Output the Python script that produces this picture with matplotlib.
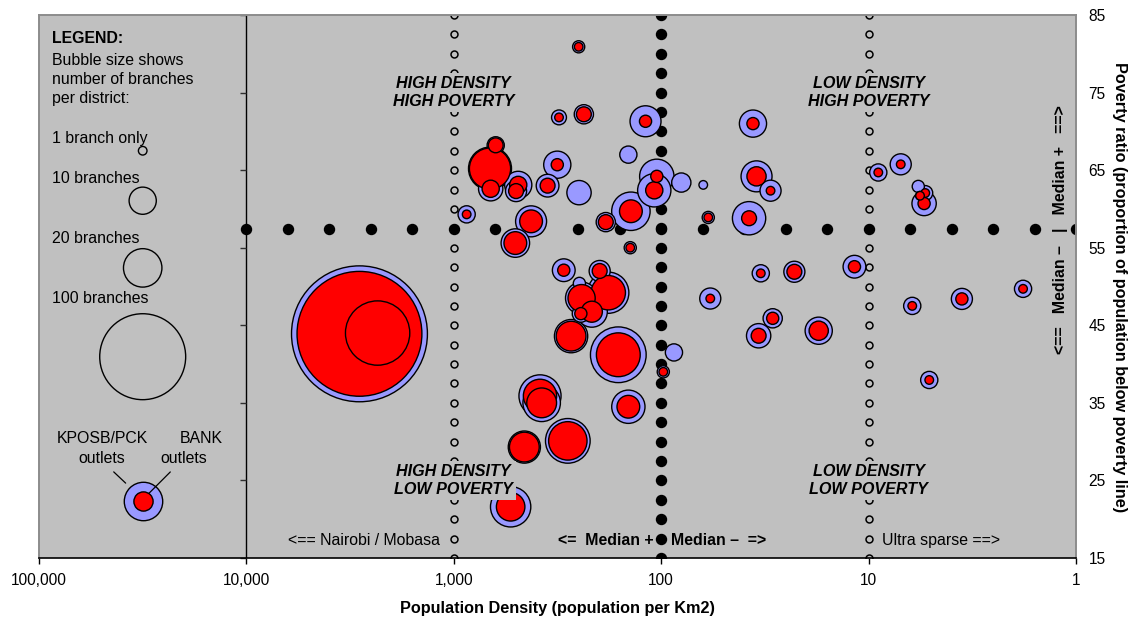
import numpy as np
import matplotlib
matplotlib.use('Agg')
import matplotlib.pyplot as plt
from matplotlib.ticker import FixedLocator, NullLocator, FixedFormatter

plt.rcParams['font.family'] = ['Liberation Sans', 'DejaVu Sans']

# ---------------- data (one entry per district) ----------------
density = [250, 311, 236, 119, 669, 628, 664, 489, 501, 317, 353, 249, 144, 105, 108,
           80, 867, 424, 505, 185, 140, 141, 62.7, 36.1, 34.7, 29.7, 59.3, 37.7, 33.1,
           22.8, 11.7, 58.0, 29.0, 33.9, 17.4, 8.98, 7.0, 5.76, 5.33, 5.65, 5.4, 6.16,
           3.55, 1.80, 5.1, 86.8, 97.7, 295, 198, 180, 242, 248, 216, 244, 272, 161,
           384, 377, 144, 457, 282, 532, 2850, 2330]
poverty = [80.9, 71.8, 72.2, 71.3, 65.2, 68.2, 62.6, 63.1, 62.3, 65.7, 63.0, 62.1, 67.0,
           64.2, 62.4, 63.4, 59.3, 58.4, 55.6, 58.3, 59.7, 55.0, 63.1, 71.0, 64.2, 62.35,
           58.9, 58.8, 51.7, 51.9, 52.55, 48.45, 45.9, 43.65, 44.3, 64.7, 65.75, 62.9,
           62.05, 61.7, 60.7, 47.5, 48.4, 49.7, 37.95, 41.5, 39.0, 52.1, 52.0, 49.2, 48.5,
           50.4, 46.75, 46.5, 43.6, 41.2, 35.9, 35.0, 34.5, 29.3, 30.1, 21.6, 43.9, 44.0]
kposb_outlets = [2, 3, 5, 13, 25, 4, 8, 10, 6, 10, 7, 8, 4, 16, 15,
                 5, 4, 13, 11, 5, 20, 2, 1, 10, 13, 6, 2, 15, 4,
                 6, 7, 6, 5, 8, 10, 4, 6, 2, 3, 1, 8, 4,
                 6, 4, 4, 4, 2, 7, 6, 23, 14, 2, 13, 4, 15, 42,
                 24, 19, 15, 14, 27, 22, 250, 60]
bank_outlets = [1, 1, 3, 2, 23, 3, 4, 4, 3, 2, 3, 0, 0, 2, 4,
                0, 1, 7, 7, 3, 7, 1, 0, 2, 5, 1, 1, 3, 1,
                3, 2, 1, 2, 3, 5, 1, 1, 0, 1, 1, 2, 1,
                2, 1, 1, 0, 1, 2, 3, 16, 10, 0, 6, 2, 12, 26,
                15, 12, 7, 12, 20, 11, 211, 56]

median_density = 100
median_poverty = 57.4
quadrant_lines = [1000, 10]

legend_sizes = [1, 10, 20, 100]
legend_labels = ["1 branch only", "10 branches", "20 branches", "100 branches"]
legend_y = [67.5, 61.06, 52.4, 40.95]
legend_x = 31623
legend_sample = (22.4, 20, 5)   # y, kposb, bank

x_ticks = [100000, 10000, 1000, 100, 10, 1]
x_ticklabels = ["100,000", "10,000", "1,000", "100", "10", "1"]
y_ticks = [15, 25, 35, 45, 55, 65, 75, 85]

# ---------------- styling ----------------
BG = '#C0C0C0'
BLUE = '#9999FF'
RED = '#FF0000'
SCALE = 38.3   # marker area (pt^2) per outlet
FS = 11.4
FSQ = 11.6
FSL = 11.7

fig = plt.figure(figsize=(11.31, 6.18), dpi=100)
ax = fig.add_axes([39 / 1131, 60 / 618, 1037 / 1131, 543 / 618])
ax.set_facecolor(BG)
ax.set_xscale('log')
ax.set_xlim(100000, 1)
ax.set_ylim(15, 85)

for side in ['top', 'left', 'right']:
    ax.spines[side].set_color('#8c8c8c')
    ax.spines[side].set_linewidth(1.4)
ax.spines['bottom'].set_color('black')
ax.spines['bottom'].set_linewidth(1.2)

ax.xaxis.set_major_locator(FixedLocator(x_ticks))
ax.xaxis.set_major_formatter(FixedFormatter(x_ticklabels))
ax.xaxis.set_minor_locator(NullLocator())
ax.tick_params(axis='x', direction='out', length=4, width=1, pad=7, labelsize=11.2)

ax.yaxis.tick_right()
ax.set_yticks(y_ticks)
ax.yaxis.set_minor_locator(NullLocator())
ax.tick_params(axis='y', length=0, pad=9, labelsize=11.2)

# y axis line crossing at 10,000
ax.axvline(10000, color='black', lw=1.0, zorder=2.5)
ax.plot([10000] * len(y_ticks), y_ticks, ls='none', marker=0, ms=4.3, mew=1.0,
        color='#303030', zorder=2.5, clip_on=False)

# guide dots
hx = np.logspace(4, 0, 21)
ax.plot(hx, [median_poverty] * len(hx), ls='none', marker='o', ms=7.2, color='black',
        zorder=2.2)
vy = np.arange(85, 14.9, -2.5)
ax.plot([median_density] * len(vy), vy, ls='none', marker='o', ms=7.2, color='black',
        zorder=2.1)
for q in quadrant_lines:
    ax.plot([q] * len(vy), vy, ls='none', marker='o', ms=5.0, mfc=BG, mec='black',
            mew=1.1, zorder=2.0)

# bubbles
d = np.array(density, float)
p = np.array(poverty, float)
kb = np.array(kposb_outlets, float)
bk = np.array(bank_outlets, float)
ob = np.argsort(-kb, kind='stable')
ax.scatter(d[ob], p[ob], s=kb[ob] * SCALE, c=BLUE, edgecolors='black', linewidths=1.0,
           zorder=3)
orr = [i for i in np.argsort(-bk, kind='stable') if bk[i] > 0]
ax.scatter(d[orr], p[orr], s=bk[orr] * SCALE, c=RED, edgecolors='black', linewidths=1.0,
           zorder=3.1)

# legend bubbles
ax.scatter([legend_x] * len(legend_sizes), legend_y, s=np.array(legend_sizes) * SCALE,
           facecolors='none', edgecolors='black', linewidths=1.0, zorder=3)
ax.scatter([legend_x], [legend_sample[0]], s=legend_sample[1] * SCALE, c=BLUE,
           edgecolors='black', linewidths=1.0, zorder=3)
ax.scatter([legend_x], [legend_sample[0]], s=legend_sample[2] * SCALE, c=RED,
           edgecolors='black', linewidths=1.0, zorder=3.1)

T = ax.transAxes
ax.text(0.0128, 0.9484, "LEGEND:", transform=T, fontsize=FS, fontweight='bold', va='baseline')
ax.text(0.0128, 0.9088, "Bubble size shows", transform=T, fontsize=FS, va='baseline')
ax.text(0.0128, 0.8729, "number of branches", transform=T, fontsize=FS, va='baseline')
ax.text(0.0128, 0.8379, "per district:", transform=T, fontsize=FS, va='baseline')
for lab, yf in zip(legend_labels, [0.7634, 0.6906, 0.5801, 0.4696]):
    ax.text(0.0128, yf, lab, transform=T, fontsize=FS, va='baseline')
ax.text(0.0612, 0.2112, "KPOSB/PCK", transform=T, fontsize=FS, ha='center', va='baseline')
ax.text(0.0605, 0.1744, "outlets", transform=T, fontsize=FS, ha='center', va='baseline')
ax.text(0.1560, 0.2112, "BANK", transform=T, fontsize=FS, ha='center', va='baseline')
ax.text(0.1396, 0.1744, "outlets", transform=T, fontsize=FS, ha='center', va='baseline')
ax.annotate('', xy=(0.0855, 0.1344), xytext=(0.0701, 0.1621), xycoords=T,
            arrowprops=dict(arrowstyle='-', color='black', lw=0.9))
ax.annotate('', xy=(0.1022, 0.1118), xytext=(0.1285, 0.1621), xycoords=T,
            arrowprops=dict(arrowstyle='-', color='black', lw=0.9))

# quadrant labels
box = dict(boxstyle='square,pad=0.18', fc=BG, ec='none')
for (qx, qy, txt) in [(1000, 75, "HIGH DENSITY\nHIGH POVERTY"),
                      (10, 75, "LOW DENSITY\nHIGH POVERTY"),
                      (1000, 25, "HIGH DENSITY\nLOW POVERTY"),
                      (10, 25, "LOW DENSITY\nLOW POVERTY")]:
    ax.text(qx, qy, txt, fontsize=FSQ, fontweight='bold', fontstyle='italic', ha='center',
            va='center', linespacing=1.32, bbox=box, zorder=5)

ax.text(1166, 16.67, "<== Nairobi / Mobasa", fontsize=FS, ha='right', va='baseline', zorder=5)
ax.text(109, 16.67, "<=  Median +", fontsize=FS, fontweight='bold', ha='right',
        va='baseline', zorder=5)
ax.text(90, 16.67, "Median \u2013  =>", fontsize=FS, fontweight='bold', ha='left',
        va='baseline', zorder=5)
ax.text(8.62, 16.67, "Ultra sparse ==>", fontsize=FS, ha='left', va='baseline', zorder=5)
ax.text(1.19, median_poverty, "<==   Median \u2013   |   Median +   ==>", fontsize=FS,
        fontweight='bold', rotation=90, ha='center', va='center', zorder=5)

fig.text(557 / 1131, 1 - 608 / 618, "Population Density (population per Km2)",
         fontsize=FSL, fontweight='bold', ha='center', va='center')
fig.text(1120 / 1131, 1 - 287 / 618,
         "Poverty ratio (proportion of population below poverty line)",
         fontsize=FSL, fontweight='bold', rotation=270, ha='center', va='center')

fig.savefig('out.png', dpi=100, facecolor='white')
